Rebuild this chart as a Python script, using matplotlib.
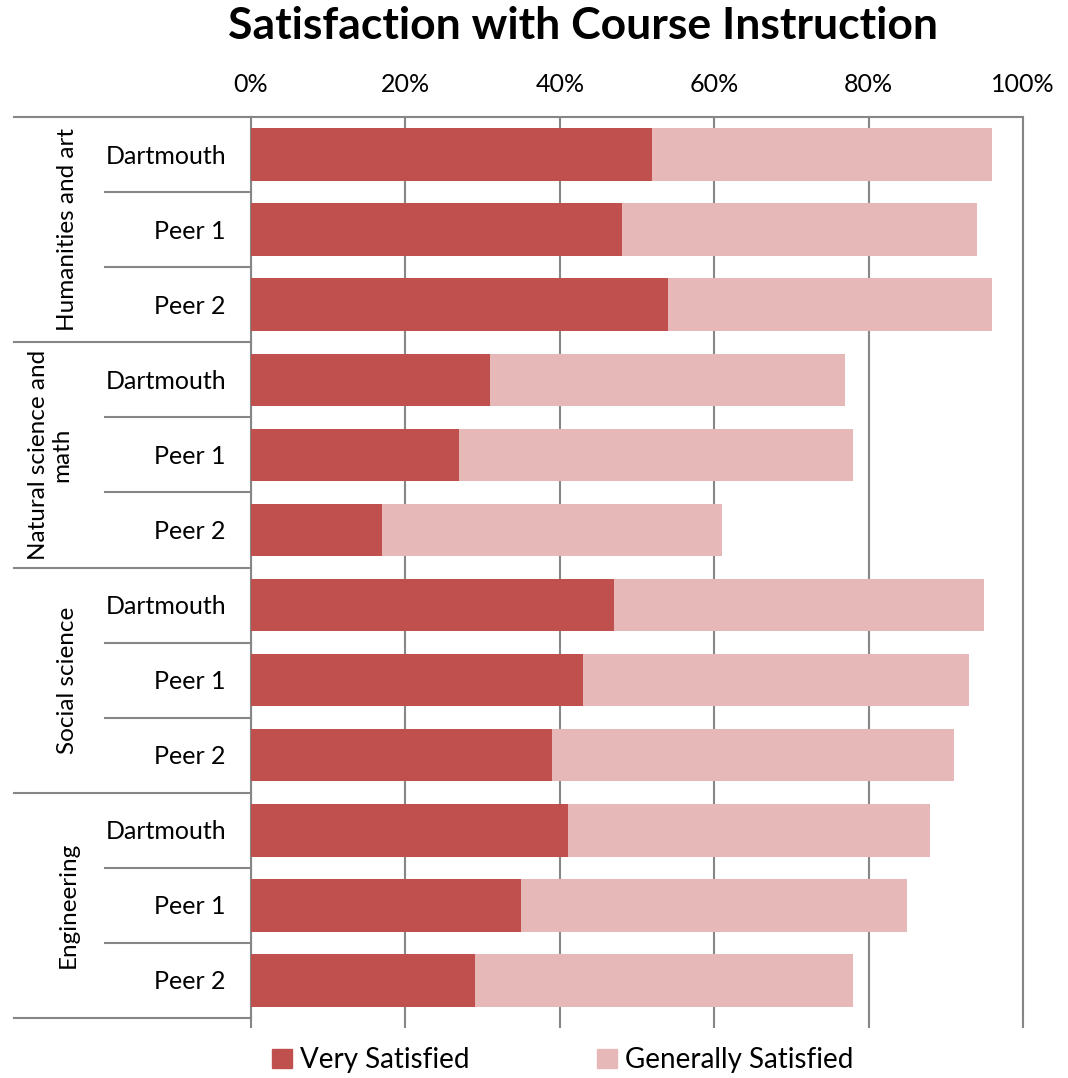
import matplotlib.pyplot as plt
import matplotlib.transforms as mtransforms
from matplotlib.patches import Patch
import numpy as np

plt.rcParams['font.family'] = ['Lato', 'DejaVu Sans']

# data
groups = ["Humanities and art", "Natural science and\nmath", "Social science", "Engineering"]
schools = ["Dartmouth", "Peer 1", "Peer 2"]
very_satisfied = [52, 48, 54, 31, 27, 17, 47, 43, 39, 41, 35, 29]
generally_satisfied = [44, 46, 42, 46, 51, 44, 48, 50, 52, 47, 50, 49]
x_ticks = [0, 20, 40, 60, 80, 100]

dark_red = "#C0504D"
light_red = "#E6B9B8"
grid_col = "#868686"

fig = plt.figure(figsize=(10.68, 10.78), dpi=100)
ax = fig.add_axes([251/1068, 1 - 1018/1078, 772/1068, 901/1078])

n = len(very_satisfied)
y = np.arange(n)
ax.barh(y, very_satisfied, height=0.7, color=dark_red, zorder=3)
ax.barh(y, generally_satisfied, left=very_satisfied, height=0.7, color=light_red, zorder=3)

ax.set_xlim(0, 100)
ax.set_ylim(n - 0.5, -0.5)

# x axis labels on top, tick marks at the bottom
ax.set_xticks(x_ticks)
ax.set_xticklabels([f"{t}%" for t in x_ticks], fontsize=18)
ax.tick_params(axis="x", top=False, labeltop=True, bottom=True, labelbottom=False,
               length=7, width=1.5, color=grid_col, pad=8, direction="out")
ax.xaxis.grid(True, color=grid_col, linewidth=1.5, zorder=0)
ax.set_yticks([])

for s in ["top", "left", "right"]:
    ax.spines[s].set_color(grid_col)
    ax.spines[s].set_linewidth(1.5)
ax.spines["bottom"].set_visible(False)

# left label table
trans = mtransforms.blended_transform_factory(ax.transAxes, ax.transData)
x_outer = (14 - 251) / 772
x_inner = (105 - 251) / 772
for g in range(len(groups) + 1):
    yy = g * 3 - 0.5
    ax.plot([x_outer, 0], [yy, yy], transform=trans, color=grid_col, lw=1.5, clip_on=False)
for g in range(len(groups)):
    for k in (1, 2):
        yy = g * 3 + k - 0.5
        ax.plot([x_inner, 0], [yy, yy], transform=trans, color=grid_col, lw=1.5, clip_on=False)

for i in range(n):
    ax.text((226 - 251) / 772, i + 0.02, schools[i % 3], transform=trans, ha="right", va="center",
            fontsize=18)

for g, name in enumerate(groups):
    xg = (68 - 251) / 772 if "\n" not in name else (50 - 251) / 772
    ax.text(xg, g * 3 + 1, name, transform=trans, rotation=90, ha="center", va="center",
            fontsize=17.5, multialignment="center", linespacing=1.1)

fig.text(0.546, 1 - 26/1078, "Satisfaction with Course Instruction", ha="center", va="center",
         fontsize=32, fontweight="bold")

handles = [Patch(color=dark_red, label="Very Satisfied"),
           Patch(color=light_red, label="Generally Satisfied")]
fig.legend(handles=handles, loc="center", bbox_to_anchor=(0.527, 1 - 1060/1078), ncol=2,
           frameon=False, fontsize=20, handlelength=0.7, handleheight=0.7,
           handletextpad=0.3, columnspacing=4.6)

fig.savefig("out.png", dpi=100)
